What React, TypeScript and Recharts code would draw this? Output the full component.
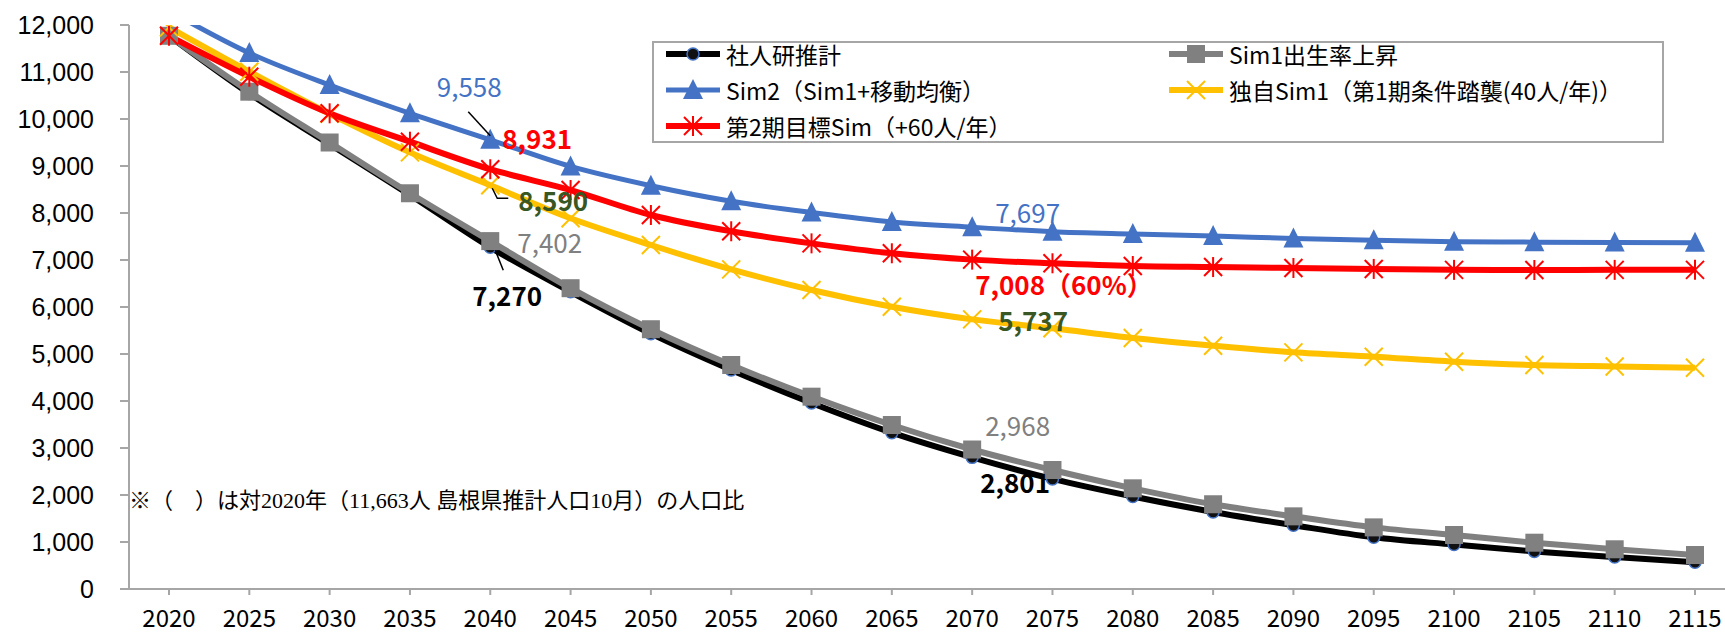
import React from 'react';
import { LineChart, Line, XAxis, YAxis, ReferenceDot } from 'recharts';

// 年次
const years = ['2020', '2025', '2030', '2035', '2040', '2045', '2050', '2055', '2060', '2065',
  '2070', '2075', '2080', '2085', '2090', '2095', '2100', '2105', '2110', '2115'];

// 各シナリオの推計人口（人）
const shajinken = [11770, 10540, 9461, 8384, 7270, 6323, 5433, 4660, 3958, 3326,
  2801, 2342, 1967, 1639, 1358, 1101, 945, 800, 680, 570];
const sim1 = [11770, 10581, 9500, 8420, 7402, 6400, 5527, 4766, 4092, 3489,
  2968, 2532, 2142, 1803, 1546, 1311, 1149, 985, 845, 723];
const sim2 = [12300, 11404, 10723, 10121, 9558, 8990, 8580, 8250, 8010, 7810,
  7697, 7603, 7553, 7510, 7460, 7420, 7390, 7380, 7372, 7365];
const dokujiSim1 = [11950, 11006, 10110, 9290, 8590, 7887, 7319, 6800, 6362, 6006,
  5737, 5547, 5340, 5176, 5035, 4941, 4836, 4766, 4735, 4709];
const mokuhyoSim = [11770, 10900, 10121, 9517, 8931, 8489, 7958, 7611, 7354, 7143,
  7008, 6930, 6872, 6850, 6830, 6810, 6790, 6787, 6790, 6790];

const yTicks = [0, 1000, 2000, 3000, 4000, 5000, 6000, 7000, 8000, 9000, 10000, 11000, 12000];

const NOTE = '※（　）は対2020年（11,663人 島根県推計人口10月）の人口比';

const data = years.map((y, i) => ({
  year: y,
  shajinken: shajinken[i],
  sim1: sim1[i],
  sim2: sim2[i],
  dokuji: dokujiSim1[i],
  mokuhyo: mokuhyoSim[i],
}));

const BLUE = '#4472C4';
const RED = '#FF0000';
const YELLOW = '#FFC000';
const GRAY = '#808080';
const GREEN = '#385723';
const JP = "'Noto Sans CJK JP', 'Noto Sans', sans-serif";

type Mk = 'circle' | 'square' | 'triangle' | 'x' | 'star';

const Marker = ({ cx, cy, kind }: { cx: number; cy: number; kind: Mk }) => {
  if (cx == null || cy == null) return null;
  const s = 9;
  switch (kind) {
    case 'circle':
      return <circle cx={cx} cy={cy} r={6} fill="#111" stroke={BLUE} strokeWidth={1.5} />;
    case 'square':
      return <rect x={cx - s} y={cy - s} width={s * 2} height={s * 2} fill={GRAY} />;
    case 'triangle':
      return <path d={`M${cx},${cy - 11} L${cx + 10},${cy + 9} L${cx - 10},${cy + 9} Z`} fill={BLUE} />;
    case 'x':
      return (
        <g stroke={YELLOW} strokeWidth={2}>
          <line x1={cx - s} y1={cy - s} x2={cx + s} y2={cy + s} />
          <line x1={cx - s} y1={cy + s} x2={cx + s} y2={cy - s} />
        </g>
      );
    case 'star':
      return (
        <g stroke={RED} strokeWidth={2}>
          <line x1={cx - s} y1={cy - s} x2={cx + s} y2={cy + s} />
          <line x1={cx - s} y1={cy + s} x2={cx + s} y2={cy - s} />
          <line x1={cx} y1={cy - s - 1} x2={cx} y2={cy + s + 1} />
        </g>
      );
  }
  return null;
};

const series: { key: string; name: string; color: string; width: number; marker: Mk }[] = [
  { key: 'shajinken', name: '社人研推計', color: '#000000', width: 6, marker: 'circle' },
  { key: 'sim1', name: 'Sim1出生率上昇', color: GRAY, width: 6, marker: 'square' },
  { key: 'sim2', name: 'Sim2（Sim1+移動均衡）', color: BLUE, width: 5, marker: 'triangle' },
  { key: 'dokuji', name: '独自Sim1（第1期条件踏襲(40人/年)）', color: YELLOW, width: 6, marker: 'x' },
  { key: 'mokuhyo', name: '第2期目標Sim（+60人/年）', color: RED, width: 6, marker: 'star' },
];

// 注記ラベル（データ点からのオフセット）
type Annot = {
  year: string; value: number; text: string; color: string; bold: boolean;
  dx: number; dy: number; anchor?: 'start' | 'end' | 'middle'; leader?: [number, number][];
};
const annots: Annot[] = [
  { year: '2040', value: sim2[4], text: '9,558', color: BLUE, bold: false, dx: -21, dy: -54, anchor: 'middle', leader: [[-22, -28], [0, -4]] },
  { year: '2040', value: mokuhyoSim[4], text: '8,931', color: RED, bold: true, dx: 12, dy: -32 },
  { year: '2040', value: dokujiSim1[4], text: '8,590', color: GREEN, bold: true, dx: 28, dy: 14, leader: [[2, 3], [7, 13], [18, 13]] },
  { year: '2040', value: sim1[4], text: '7,402', color: GRAY, bold: false, dx: 27, dy: 0 },
  { year: '2040', value: shajinken[4], text: '7,270', color: '#000', bold: true, dx: -18, dy: 47, leader: [[5, 3], [13, 23]] },
  { year: '2070', value: sim2[10], text: '7,697', color: BLUE, bold: false, dx: 23, dy: -16 },
  { year: '2070', value: mokuhyoSim[10], text: '7,008（60%）', color: RED, bold: true, dx: 3, dy: 24 },
  { year: '2070', value: dokujiSim1[10], text: '5,737', color: GREEN, bold: true, dx: 26, dy: 0 },
  { year: '2070', value: sim1[10], text: '2,968', color: GRAY, bold: false, dx: 13, dy: -25 },
  { year: '2070', value: shajinken[10], text: '2,801', color: '#000', bold: true, dx: 8, dy: 24 },
];

const LegendBox = () => (
  <div style={{
    position: 'absolute', left: 652, top: 41,
    width: 1012, height: 102, boxSizing: 'border-box', border: '2px solid #A6A6A6', background: '#fff',
    fontFamily: JP, fontSize: 23, color: '#000',
  }}>
    {series.map((s, i) => {
      const col = i % 2;
      const row = Math.floor(i / 2);
      return (
        <div key={s.key} style={{
          position: 'absolute', left: col === 0 ? 12 : 515, top: 11 + row * 36 - 18, height: 36,
          display: 'flex', alignItems: 'center', whiteSpace: 'nowrap',
        }}>
          <svg width={54} height={24} style={{ marginRight: 6 }}>
            <line x1={0} y1={12} x2={54} y2={12} stroke={s.color} strokeWidth={s.width} />
            <Marker cx={27} cy={12} kind={s.marker} />
          </svg>
          <span>{s.name}</span>
        </div>
      );
    })}
  </div>
);

export default function App() {
  return (
    <div style={{ position: 'absolute', left: 0, top: 0, width: 1725, height: 634, background: '#fff' }}>
      <LineChart width={1725} height={634} data={data} margin={{ top: 25, right: 0, bottom: 0, left: 0 }}>
        <XAxis
          dataKey="year"
          padding={{ left: 40, right: 30 }}
          height={45}
          stroke="#A6A6A6"
          strokeWidth={2}
          tickSize={6}
          tickMargin={15}
          tick={{ fill: '#000', fontSize: 24, fontFamily: JP }}
          interval={0}
        />
        <YAxis
          domain={[0, 12000]}
          ticks={yTicks}
          allowDataOverflow
          width={129}
          stroke="#A6A6A6"
          strokeWidth={2}
          tickSize={9}
          tickMargin={26}
          tick={{ fill: '#000', fontSize: 25, fontFamily: "'Liberation Sans', Arial, sans-serif" }}
          tickFormatter={(v: number) => v.toLocaleString('en-US')}
        />
        {series.map((s) => (
          <Line
            key={s.key}
            dataKey={s.key}
            name={s.name}
            stroke={s.color}
            strokeWidth={s.width}
            type="monotone"
            isAnimationActive={false}
            dot={(p: any) => <Marker key={`${s.key}-${p.index}`} cx={p.cx} cy={p.cy} kind={s.marker} />}
            activeDot={false}
          />
        ))}
        {annots.map((a, i) => (
          <ReferenceDot
            key={`annot-${i}`}
            x={a.year}
            y={a.value}
            r={0}
            ifOverflow="visible"
            shape={(p: any) => (
              <g>
                {a.leader && (
                  <polyline
                    points={a.leader.map(([lx, ly]) => `${p.cx + lx},${p.cy + ly}`).join(' ')}
                    fill="none" stroke="#000" strokeWidth={1.5}
                  />
                )}
                <text
                  x={p.cx + a.dx}
                  y={p.cy + a.dy}
                  textAnchor={a.anchor ?? 'start'}
                  dominantBaseline="central"
                  fill={a.color}
                  fontSize={26}
                  fontWeight={a.bold ? 700 : 400}
                  fontFamily={JP}
                >
                  {a.text}
                </text>
              </g>
            )}
          />
        ))}
      </LineChart>
      <LegendBox />
      <div style={{
        position: 'absolute', left: 129, top: 488, fontSize: 22, lineHeight: '26px', whiteSpace: 'nowrap',
        fontFamily: "'Liberation Serif', 'Noto Sans CJK JP', serif", color: '#000',
      }}>
        {NOTE}
      </div>
    </div>
  );
}
